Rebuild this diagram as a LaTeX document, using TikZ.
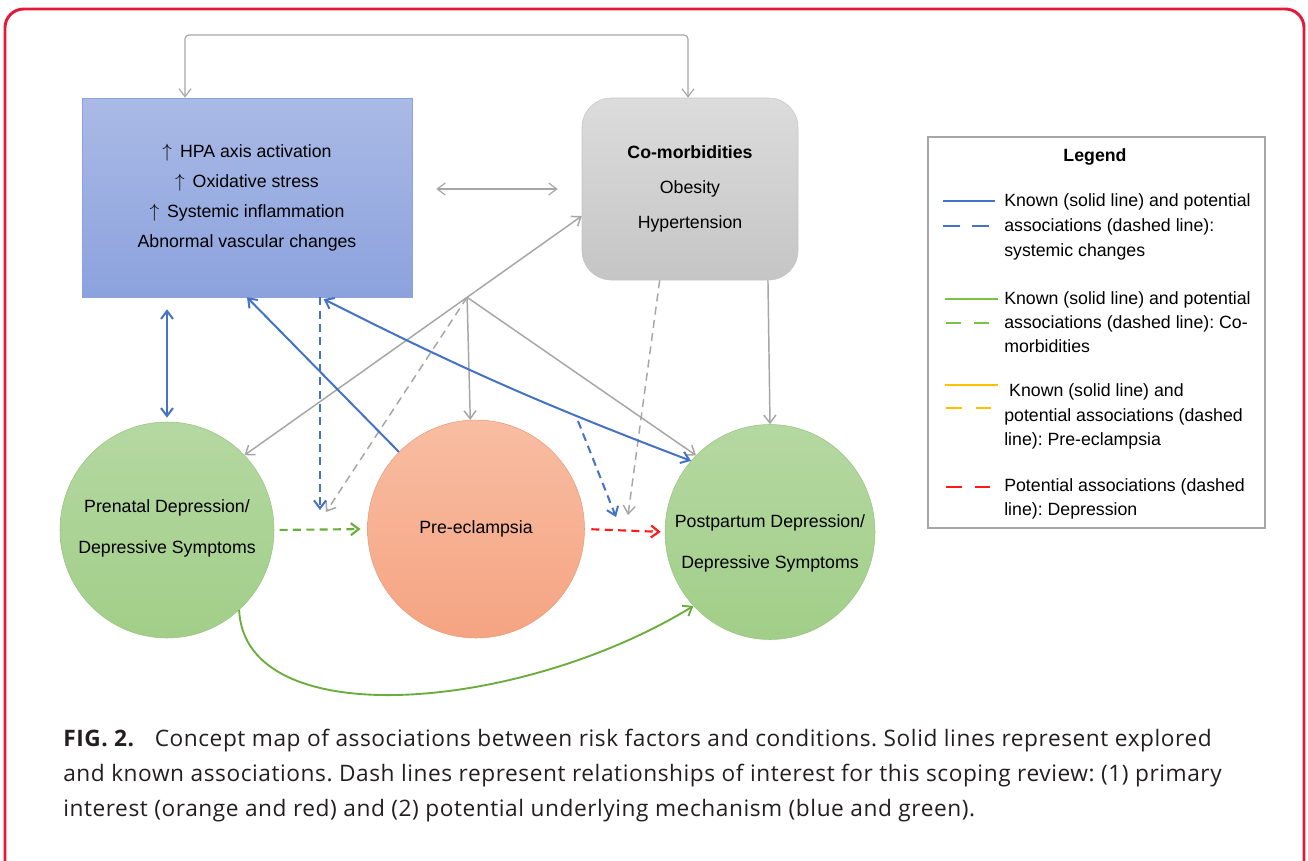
\documentclass[tikz,border=0pt]{standalone}
\usepackage{xcolor}
\usepackage{fontspec}
\setmainfont{Liberation Sans}
\newfontfamily\capfont[LetterSpace=2.5]{Open Sans}
\usetikzlibrary{arrows.meta,shapes.geometric,calc}

\definecolor{rahmenrot}{HTML}{E31937}
\definecolor{blauoben}{HTML}{AABAE6}
\definecolor{blauunten}{HTML}{8CA2DD}
\definecolor{grauoben}{HTML}{DCDCDC}
\definecolor{grauunten}{HTML}{C5C5C5}
\definecolor{gruenoben}{HTML}{B5D8A2}
\definecolor{gruenunten}{HTML}{A1CE88}
\definecolor{lachsoben}{HTML}{F8BDA2}
\definecolor{lachsunten}{HTML}{F5A482}
\definecolor{linieblau}{HTML}{4472C4}
\definecolor{liniegrau}{HTML}{A6A6A6}
\definecolor{liniegruen}{HTML}{6AAD3C}
\definecolor{legendgruen}{HTML}{7DC242}
\definecolor{linierot}{HTML}{FF1A1A}
\definecolor{linieorange}{HTML}{FFC000}
\definecolor{textschwarz}{HTML}{231F20}

\newcommand\schrift{\fontsize{13.3}{22.5}\selectfont}
\newcommand\hoch{$\uparrow$\hspace{6pt}}
\frenchspacing

\begin{document}
\begin{tikzpicture}[x=0.75pt,y=-0.75pt,
kasten/.style={rectangle, draw=blauunten, top color=blauoben, bottom color=blauunten,
  minimum width=247.5pt, minimum height=149.25pt, align=center, font=\schrift},
grauerkasten/.style={kasten, draw=grauunten, top color=grauoben, bottom color=grauunten,
  minimum width=162pt, minimum height=136.5pt, rounded corners=22pt,
  font=\fontsize{13.3}{26}\selectfont},
kreis/.style={ellipse, draw=gruenunten!95!black, top color=gruenoben, bottom color=gruenunten,
  minimum width=160.5pt, minimum height=162pt, inner sep=0pt},
lachskreis/.style={kreis, draw=lachsunten!95!black, top color=lachsoben, bottom color=lachsunten},
kreistext/.style={align=center, font=\fontsize{13.3}{30.75}\selectfont},
spitze/.style={-{Straight Barb[length=6pt,width=9pt]}},
doppelspitze/.style={{Straight Barb[length=6pt,width=9pt]}-{Straight Barb[length=6pt,width=9pt]}},
grau/.style={liniegrau, line width=1.1pt},
blau/.style={linieblau, line width=1.5pt},
gestrichelt/.style={dash pattern=on 6pt off 4pt},
]
\useasboundingbox (0,0) rectangle (1308,860);
\fill[white] (0,0) rectangle (1308,860);
\draw[rahmenrot, line width=2.2pt, rounded corners=14pt] (5,9) rectangle (1304,900);

% Kaesten oben
\node[kasten] (M) at (247,197.5)
  {\hoch HPA axis activation\\ \hoch Oxidative stress\\ \hoch Systemic inflammation\\ Abnormal vascular changes};
\node[grauerkasten] (K) at (690,189)
  {\textbf{Co-morbidities}\\ Obesity\\ Hypertension};

% Kreise
\node[kreis, label={[kreistext, yshift=1pt]center:Prenatal Depression/\\ Depressive Symptoms}] (V) at (167,530) {};
\node[lachskreis, minimum width=162.75pt, minimum height=163.5pt,
  label={[kreistext]center:Pre-eclampsia}] (P) at (476,529) {};
\node[kreis, minimum width=157.5pt, minimum height=161.25pt,
  label={[kreistext, yshift=-8.5pt]center:Postpartum Depression/\\ Depressive Symptoms}] (N) at (770,532) {};

% Hilfspunkte
\coordinate (obenL) at (185,35);
\coordinate (obenR) at (688,35);
\coordinate (ast) at ($(K.194)!0.34!(V.44)$);
\coordinate (blauEnde) at (320,510);
\coordinate (grauEnde) at (326,512);
\coordinate (blauAst) at (578,421);
\coordinate (blauEnde2) at (616,517);
\coordinate (grauEnde2) at (628,515);

% graue Verbindungen
\draw[grau, line width=0.9pt, doppelspitze, rounded corners=3pt]
  (M.north -| obenL) -- (obenL) -- (obenR) -- (K.north -| obenR);
\draw[grau, line width=0.9pt, doppelspitze, shorten <=18pt, shorten >=18pt] (M.east |- K.west) -- (K.west);
\draw[grau, doppelspitze] (K.194) -- (V.44);
\draw[grau, spitze] (ast) -- (P.93);
\draw[grau, spitze] (ast) -- (N.134);
\draw[grau, spitze, gestrichelt] (ast) -- (grauEnde);
\draw[grau, spitze, gestrichelt] ($(K.south west)!0.36!(K.south east)$) -- (grauEnde2);
\draw[grau, spitze] ($(K.south west)!0.86!(K.south east)$) -- (N.north);

% blaue Verbindungen
\draw[blau, doppelspitze, shorten <=9pt, shorten >=3pt] (M.south -| V.north) -- (V.north);
\draw[blau, spitze] (P.135) -- (M.south);
\draw[blau, doppelspitze, shorten <=3pt] (M.south -| blauEnde) to[bend right=3] (N.138);
\draw[blau, spitze, gestrichelt] (M.south -| blauEnde) -- (blauEnde);
\draw[blau, spitze, gestrichelt] (blauAst) -- (blauEnde2);

% gruen und rot
\draw[liniegruen, line width=1.6pt, spitze, gestrichelt, shorten <=4pt, shorten >=5pt] (V.east) -- (P.west);
\draw[linierot, line width=1.6pt, spitze, gestrichelt, shorten <=5pt, shorten >=3pt] (P.east) -- (N.west);
\draw[liniegruen, line width=1.4pt, spitze] (V.312) .. controls (245,735) and (520,712) .. (N.224);

% Legende
\node[draw=liniegrau, line width=0.8pt, minimum width=252.75pt, minimum height=293.25pt] (L) at (1096.5,332.5) {};
\node[font=\fontsize{13.3}{18}\selectfont\bfseries] (T) at (1095,157) {Legend};
\draw[linieblau, line width=2.2pt] (943,201) -- (995,201);
\draw[linieblau, line width=2.2pt, dash pattern=on 12.75pt off 9pt] (943,226) -- (989,226);
\draw[legendgruen, line width=2.2pt] (945,299) -- (998,299);
\draw[legendgruen, line width=2.2pt, dash pattern=on 11.25pt off 9.75pt] (946,323) -- (991,323);
\draw[linieorange, line width=2.2pt] (945,385) -- (998,385);
\draw[linieorange, line width=2.2pt, dash pattern=on 12pt off 10.5pt] (946,408) -- (991,408);
\draw[linierot, line width=2.2pt, dash pattern=on 12pt off 9.75pt] (946,487) -- (990,487);
\node[anchor=west, align=left, inner sep=0pt, font=\fontsize{13.3}{18.6}\selectfont] (L1) at (1004,227)
  {Known (solid line) and potential\\ associations (dashed line):\\ systemic changes};
\node[anchor=west, align=left, inner sep=0pt, font=\fontsize{13.3}{18.2}\selectfont] (L2) at (1004,322)
  {Known (solid line) and potential\\ associations (dashed line): Co-\\ morbidities};
\node[anchor=west, align=left, inner sep=0pt, font=\fontsize{13.3}{18.6}\selectfont] (L3) at (1004,416.5)
  {\ Known (solid line) and\\ potential associations (dashed\\ line): Pre-eclampsia};
\node[anchor=west, align=left, inner sep=0pt, font=\fontsize{13.3}{18.2}\selectfont] (L4) at (1004,499)
  {Potential associations (dashed\\ line): Depression};

% Bildunterschrift
\node[anchor=north west, align=left, inner sep=0pt, text=textschwarz,
  font=\capfont\fontsize{17}{26.25}\selectfont] (C) at (63,729)
  {\textbf{FIG. 2.}\hspace{15pt}Concept map of associations between risk factors and conditions. Solid lines represent explored\\
   and known associations. Dash lines represent relationships of interest for this scoping review: (1) primary\\
   interest (orange and red) and (2) potential underlying mechanism (blue and green).};
\end{tikzpicture}
\end{document}
